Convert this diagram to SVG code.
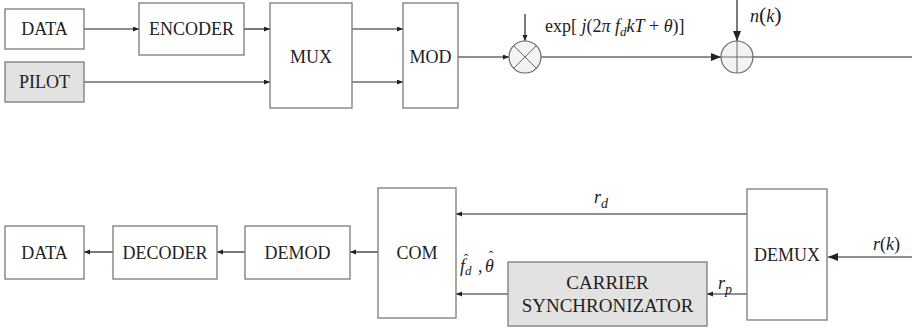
<svg xmlns="http://www.w3.org/2000/svg" width="912" height="328" viewBox="0 0 912 328">
<defs>
  <marker id="sa" markerUnits="userSpaceOnUse" markerWidth="7" markerHeight="6" refX="6" refY="2.5" orient="auto"><path d="M0,0 L6,2.5 L0,5 z" fill="#222"/></marker>
  <marker id="ba" markerUnits="userSpaceOnUse" markerWidth="11" markerHeight="9" refX="10" refY="4" orient="auto"><path d="M0,0 L10,4 L0,8 z" fill="#222"/></marker>
</defs>
<rect width="912" height="328" fill="#fff"/>

<g id="connectors" stroke="#222" stroke-width="1.2" fill="none">
  <line marker-end="url(#sa)" x1="84" y1="29" x2="139" y2="29"/>
  <line marker-end="url(#sa)" x1="244" y1="29" x2="270" y2="29"/>
  <line marker-end="url(#sa)" x1="84" y1="82" x2="270" y2="82"/>
  <line marker-end="url(#sa)" x1="352" y1="29" x2="403" y2="29"/>
  <line marker-end="url(#sa)" x1="352" y1="82" x2="403" y2="82"/>
  <line marker-end="url(#sa)" x1="458" y1="57" x2="509" y2="57"/>
  <line marker-end="url(#sa)" x1="525" y1="14" x2="525" y2="41"/>
  <line marker-end="url(#ba)" x1="541" y1="57" x2="721" y2="57"/>
  <line marker-end="url(#ba)" x1="737" y1="0" x2="737" y2="41"/>
  <line x1="753" y1="57" x2="912" y2="57"/>

  <line marker-end="url(#ba)" x1="912" y1="257" x2="828" y2="257"/>
  <line marker-end="url(#sa)" x1="747" y1="214" x2="456" y2="214"/>
  <line marker-end="url(#sa)" x1="747" y1="294" x2="707" y2="294"/>
  <line marker-end="url(#sa)" x1="508" y1="294" x2="456" y2="294"/>
  <line marker-end="url(#sa)" x1="378" y1="252" x2="350" y2="252"/>
  <line marker-end="url(#sa)" x1="245" y1="252" x2="217" y2="252"/>
  <line marker-end="url(#sa)" x1="113" y1="252" x2="84" y2="252"/>
</g>

<g id="data-tx"><rect x="5" y="9" width="79" height="40" fill="#fff" stroke="#7a7a7a" stroke-width="1.3"/><text font-family="Times New Roman" font-size="18" fill="#222" text-anchor="middle" x="44.5" y="35">DATA</text></g>
<g id="pilot"><rect x="5" y="62" width="79" height="40" fill="#e2e2e2" stroke="#7a7a7a" stroke-width="1.3"/><text font-family="Times New Roman" font-size="18" fill="#222" text-anchor="middle" x="44.5" y="88">PILOT</text></g>
<g id="encoder"><rect x="139" y="3" width="105" height="52" fill="#fff" stroke="#7a7a7a" stroke-width="1.3"/><text font-family="Times New Roman" font-size="18" fill="#222" text-anchor="middle" x="191.5" y="35">ENCODER</text></g>
<g id="mux"><rect x="270" y="3" width="82" height="105" fill="#fff" stroke="#7a7a7a" stroke-width="1.3"/><text font-family="Times New Roman" font-size="18" fill="#222" text-anchor="middle" x="311" y="63">MUX</text></g>
<g id="mod"><rect x="403" y="3" width="55" height="105" fill="#fff" stroke="#7a7a7a" stroke-width="1.3"/><text font-family="Times New Roman" font-size="18" fill="#222" text-anchor="middle" x="430.5" y="63">MOD</text></g>

<g id="multiplier" stroke="#6a6a6a">
  <circle cx="525" cy="57" r="16" fill="#f3f3f3" stroke-width="1.2"/>
  <line x1="513.7" y1="45.7" x2="536.3" y2="68.3"/>
  <line x1="536.3" y1="45.7" x2="513.7" y2="68.3"/>
</g>
<g id="adder" stroke="#6a6a6a">
  <circle cx="737" cy="57" r="16" fill="#f3f3f3" stroke-width="1.2"/>
  <line x1="721" y1="57" x2="753" y2="57"/>
  <line x1="737" y1="41" x2="737" y2="73"/>
</g>

<text font-family="Times New Roman" font-size="18" fill="#222" x="545" y="32">exp[ <tspan font-style="italic">j</tspan>(2<tspan font-style="italic">π f</tspan><tspan font-style="italic" font-size="13" dy="4">d</tspan><tspan font-style="italic" dy="-4">kT</tspan> + <tspan font-style="italic">θ</tspan>)]</text>
<text font-family="Times New Roman" font-size="18" fill="#222" x="750" y="22"><tspan font-style="italic">n</tspan><tspan font-size="22">(</tspan><tspan font-style="italic">k</tspan><tspan font-size="22">)</tspan></text>

<g id="data-rx"><rect x="5" y="226" width="79" height="53" fill="#fff" stroke="#7a7a7a" stroke-width="1.3"/><text font-family="Times New Roman" font-size="18" fill="#222" text-anchor="middle" x="44.5" y="259">DATA</text></g>
<g id="decoder"><rect x="113" y="226" width="104" height="53" fill="#fff" stroke="#7a7a7a" stroke-width="1.3"/><text font-family="Times New Roman" font-size="18" fill="#222" text-anchor="middle" x="165" y="259">DECODER</text></g>
<g id="demod"><rect x="245" y="226" width="105" height="53" fill="#fff" stroke="#7a7a7a" stroke-width="1.3"/><text font-family="Times New Roman" font-size="18" fill="#222" text-anchor="middle" x="297.5" y="259">DEMOD</text></g>
<g id="com"><rect x="378" y="188" width="78" height="130" fill="#fff" stroke="#7a7a7a" stroke-width="1.3"/><text font-family="Times New Roman" font-size="18" fill="#222" text-anchor="middle" x="417" y="259">COM</text></g>
<g id="demux"><rect x="747" y="189" width="80" height="131" fill="#fff" stroke="#7a7a7a" stroke-width="1.3"/><text font-family="Times New Roman" font-size="18" fill="#222" text-anchor="middle" x="787" y="261">DEMUX</text></g>
<g id="carrier-sync"><rect x="508" y="262" width="199" height="64" fill="#e2e2e2" stroke="#7a7a7a" stroke-width="1.3"/>
  <text font-family="Times New Roman" font-size="19" fill="#222" text-anchor="middle" x="607.5" y="289">CARRIER</text>
  <text font-family="Times New Roman" font-size="19" fill="#222" text-anchor="middle" x="607.5" y="312">SYNCHRONIZATOR</text>
</g>

<text font-family="Times New Roman" font-size="18" fill="#222" x="594" y="203"><tspan font-style="italic">r</tspan><tspan font-style="italic" font-size="14" dy="5">d</tspan></text>
<text font-family="Times New Roman" font-size="18" fill="#222" x="718" y="289"><tspan font-style="italic">r</tspan><tspan font-style="italic" font-size="14" dy="5">p</tspan></text>
<text font-family="Times New Roman" font-size="18" fill="#222" x="873" y="250"><tspan font-style="italic">r</tspan>(<tspan font-style="italic">k</tspan>)</text>
<text font-family="Times New Roman" font-size="18" fill="#222" x="460" y="272"><tspan font-style="italic">f</tspan><tspan font-style="italic" font-size="13" dy="3">d</tspan><tspan dy="-3" x="478">,</tspan><tspan font-style="italic" x="485">θ</tspan></text>
<text font-family="Times New Roman" font-size="14" fill="#222" text-anchor="middle" x="466" y="264">ˆ</text>
<text font-family="Times New Roman" font-size="14" fill="#222" text-anchor="middle" x="491" y="261">ˆ</text>
</svg>
